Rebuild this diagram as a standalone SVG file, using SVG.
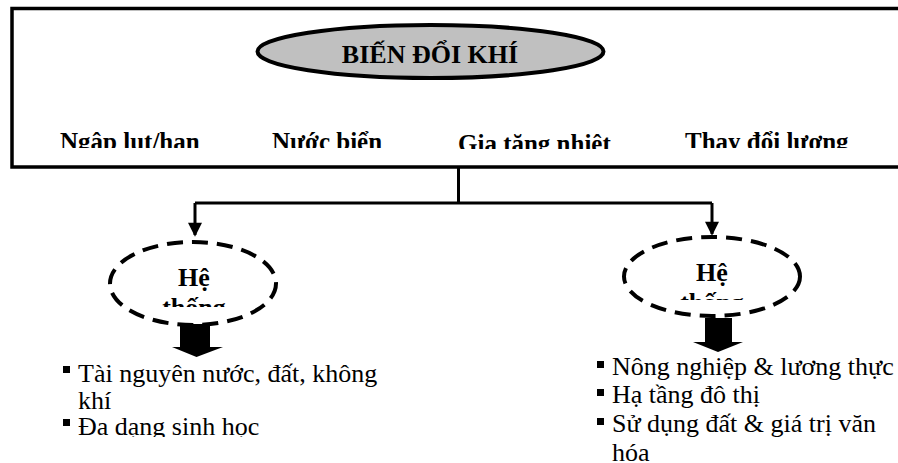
<svg xmlns="http://www.w3.org/2000/svg" width="898" height="463" viewBox="0 0 898 463">
<style>
text{font-family:"Liberation Serif","DejaVu Serif","Times New Roman",serif}
.bold{font-weight:bold;fill:#000}
.reg{fill:#000;font-size:26px}
.conn{stroke:#000;stroke-width:3;fill:none}
.dash{fill:none;stroke:#000;stroke-width:4;stroke-dasharray:16 9}
</style>
<defs>
<marker id="ah" markerWidth="16" markerHeight="14" refX="14" refY="8" viewBox="0 0 16 16" orient="auto" markerUnits="userSpaceOnUse">
<path d="M0,0 L16,8 L0,16 Z" fill="#000"/>
</marker>
<clipPath id="cRow1"><rect x="0" y="0" width="898" height="148"/></clipPath>
<clipPath id="cRow2"><rect x="0" y="0" width="898" height="149"/></clipPath>
<clipPath id="cL"><rect x="0" y="0" width="898" height="307"/></clipPath>
<clipPath id="cR"><rect x="0" y="0" width="898" height="300"/></clipPath>
<clipPath id="cLB"><rect x="0" y="0" width="898" height="437"/></clipPath>
<clipPath id="cRB"><rect x="0" y="0" width="898" height="462"/></clipPath>
</defs>

<g id="main-box">
<rect x="12" y="8.5" width="900" height="158.5" fill="#fff" stroke="#000" stroke-width="3.5"/>
</g>
<g id="title">
<ellipse cx="430.5" cy="51.5" rx="173" ry="26.5" fill="#c0c0c0" stroke="#000" stroke-width="4"/>
<text class="bold" x="430" y="63" font-size="26" text-anchor="middle" font-family="Liberation Serif, serif">BIẾN ĐỔI KHÍ</text>
</g>
<g id="labels" font-family="Liberation Serif, serif">
<g clip-path="url(#cRow1)">
<text class="bold" x="60" y="149.5" font-size="25">Ngập lụt/hạn</text>
<text class="bold" x="272" y="149.5" font-size="25">Nước biển</text>
<text class="bold" x="685" y="149.5" font-size="25">Thay đổi lượng</text>
</g>
<g clip-path="url(#cRow2)">
<text class="bold" x="458" y="152" font-size="25">Gia tăng nhiệt</text>
</g>
</g>

<g id="connectors">
<path class="conn" d="M458.5,167 V203 M195,203 H712"/>
<path class="conn" d="M195,203 V235" marker-end="url(#ah)"/>
<path class="conn" d="M712,203 V234" marker-end="url(#ah)"/>
</g>

<g id="node-left">
<ellipse class="dash" cx="193" cy="283.5" rx="83" ry="41.5"/>
<g clip-path="url(#cL)">
<text class="bold" x="194" y="286" font-size="26" text-anchor="middle">Hệ</text>
<text class="bold" x="194" y="316" font-size="26" text-anchor="middle">thống</text>
</g>
<path d="M180,324 H210 V347 H223 L196.5,357 L172,347 H180 Z" fill="#000"/>
<rect x="63" y="366" width="7" height="7" fill="#000"/>
<rect x="63" y="419" width="7" height="7" fill="#000"/>
<g clip-path="url(#cLB)">
<text class="reg" x="78" y="382">Tài nguyên nước, đất, không</text>
<text class="reg" x="78" y="408.5">khí</text>
<text class="reg" x="78" y="435">Đa dạng sinh học</text>
</g>
</g>

<g id="node-right">
<ellipse class="dash" cx="712" cy="276.5" rx="88" ry="39.5"/>
<g clip-path="url(#cR)">
<text class="bold" x="712" y="281" font-size="26" text-anchor="middle">Hệ</text>
<text class="bold" x="712" y="311" font-size="26" text-anchor="middle">thống</text>
</g>
<path d="M705,318 H732 V342 H743 L718,352 L693,342 H705 Z" fill="#000"/>
<rect x="597" y="361" width="7" height="7" fill="#000"/>
<rect x="597" y="389" width="7" height="7" fill="#000"/>
<rect x="597" y="418" width="7" height="7" fill="#000"/>
<g clip-path="url(#cRB)">
<text class="reg" x="612" y="375">Nông nghiệp &amp; lương thực</text>
<text class="reg" x="612" y="403">Hạ tầng đô thị</text>
<text class="reg" x="612" y="432">Sử dụng đất &amp; giá trị văn</text>
<text class="reg" x="612" y="461">hóa</text>
</g>
</g>
</svg>
